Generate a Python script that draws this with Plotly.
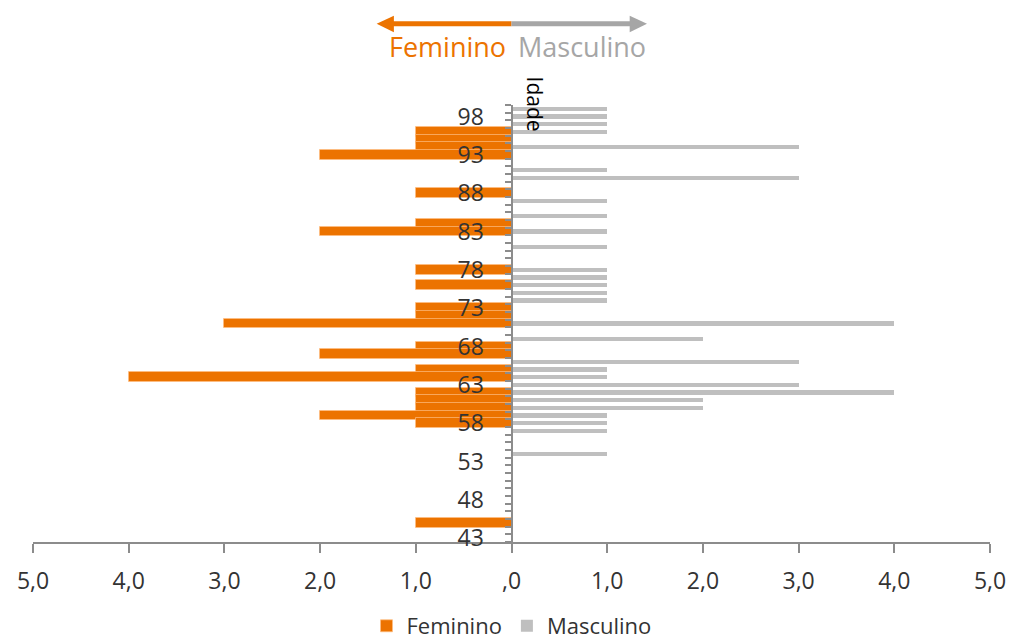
import plotly.graph_objects as go

# ---- data ----
ages = list(range(43, 100))
female = [0, 0, 1, 0, 0, 0, 0, 0, 0, 0,
          0, 0, 0, 0, 0, 1, 2, 1, 1, 1,
          0, 4, 1, 0, 2, 1, 0, 0, 3, 1,
          1, 0, 0, 1, 0, 1, 0, 0, 0, 0,
          2, 1, 0, 0, 0, 1, 0, 0, 0, 0,
          2, 1, 1, 1, 0, 0, 0]
male = [0, 0, 0, 0, 0, 0, 0, 0, 0, 0,
        0, 1, 0, 0, 1, 1, 1, 2, 2, 4,
        3, 1, 1, 3, 0, 0, 2, 0, 4, 0,
        0, 1, 1, 1, 1, 1, 0, 0, 1, 0,
        1, 0, 1, 0, 1, 0, 0, 3, 1, 0,
        0, 3, 0, 1, 1, 1, 1]
x_ticks = [-5, -4, -3, -2, -1, 0, 1, 2, 3, 4, 5]
x_ticktext = ["5,0", "4,0", "3,0", "2,0", "1,0", ",0", "1,0", "2,0", "3,0", "4,0", "5,0"]
y_ticks = list(range(43, 99, 5))

ORANGE = "#EC7300"
GRAY_BAR = "#BFBFBF"
GRAY_TXT = "#A6A6A6"
AXIS = "#8C8C8C"
TXT = "#333333"
FONT = "Open Sans"

W, H = 1011, 644
ML, MR, MT, MB = 33, 21, 105, 102
PLOT_H = H - MT - MB

def py(p):  # pixel y -> paper y
    return (H - MB - p) / PLOT_H

fig = go.Figure()
r_ages = ages[::-1]
fig.add_trace(go.Bar(
    y=r_ages, x=[-v if v else None for v in female[::-1]], orientation="h",
    name="Feminino", width=1.3,
    marker=dict(color=ORANGE, line=dict(color="rgba(255,190,130,0.7)", width=1)),
))
fig.add_trace(go.Bar(
    y=r_ages, x=[v if v else None for v in male[::-1]], orientation="h",
    name="Masculino", width=0.55,
    marker=dict(color=GRAY_BAR, line=dict(width=0)),
))

# arrows at top
ay = py(23.7)
fig.add_shape(type="line", xref="x", yref="paper", x0=0, x1=-1.24, y0=ay, y1=ay,
              line=dict(color=ORANGE, width=5))
fig.add_shape(type="path", xref="x", yref="paper",
              path=f"M -1.409,{ay} L -1.229,{py(15.7)} L -1.229,{py(32.3)} Z",
              fillcolor=ORANGE, line=dict(width=0))
fig.add_shape(type="line", xref="x", yref="paper", x0=0, x1=1.245, y0=ay, y1=ay,
              line=dict(color=GRAY_TXT, width=5))
fig.add_shape(type="path", xref="x", yref="paper",
              path=f"M 1.416,{ay} L 1.235,{py(15.7)} L 1.235,{py(32.3)} Z",
              fillcolor=GRAY_TXT, line=dict(width=0))

fig.add_annotation(text="Feminino", xref="x", yref="paper", x=0, y=py(47),
                   xanchor="right", yanchor="middle", xshift=-4, showarrow=False,
                   font=dict(family=FONT, size=27, color=ORANGE))
fig.add_annotation(text="Masculino", xref="x", yref="paper", x=0, y=py(47),
                   xanchor="left", yanchor="middle", xshift=4, showarrow=False,
                   font=dict(family=FONT, size=27, color=GRAY_TXT))
fig.add_annotation(text="Idade", xref="x", yref="paper", x=0.25, y=py(104),
                   xanchor="center", yanchor="middle", textangle=90, showarrow=False,
                   font=dict(family=FONT, size=21, color="#000000"))

fig.update_layout(
    width=W, height=H,
    margin=dict(l=ML, r=MR, t=MT, b=MB, autoexpand=False),
    paper_bgcolor="white", plot_bgcolor="white",
    barmode="overlay", bargap=0,
    font=dict(family=FONT, color=TXT),
    showlegend=True,
    legend=dict(orientation="h", x=0.5, xanchor="center", y=py(626), yanchor="middle",
                font=dict(family=FONT, size=22, color=TXT), traceorder="normal"),
    xaxis=dict(range=[-5, 5], tickvals=x_ticks, ticktext=x_ticktext,
               ticks="outside", ticklen=9, tickwidth=2, tickcolor=AXIS,
               showline=True, linecolor=AXIS, linewidth=2,
               showgrid=False, zeroline=False, ticklabelstandoff=8,
               tickfont=dict(family=FONT, size=23, color=TXT), fixedrange=True),
    yaxis=dict(range=[42.5, 99.5], tickvals=y_ticks, ticks="",
               anchor="free", position=0.5,
               showline=True, linecolor=AXIS, linewidth=2,
               showgrid=False, zeroline=False, ticklabelstandoff=22,
               minor=dict(tickvals=[42.5 + i for i in range(58)], ticks="outside",
                          ticklen=6, tickwidth=2, tickcolor=AXIS, showgrid=False),
               tickfont=dict(family=FONT, size=23, color=TXT), fixedrange=True),
)

fig.write_html("out.html", config={"displayModeBar": False},
               post_script="document.body.style.margin='0';document.body.style.overflow='hidden';")
